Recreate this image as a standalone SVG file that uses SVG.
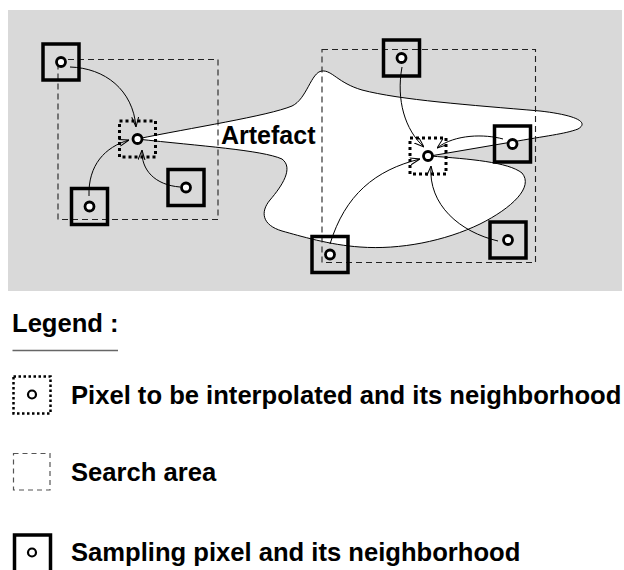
<svg xmlns="http://www.w3.org/2000/svg" width="624" height="570" viewBox="0 0 624 570">
  <style>
    .sample { fill: none; stroke: #000; stroke-width: 3.5; }
    .target { fill: none; stroke: #000; stroke-width: 3; stroke-dasharray: 3 3; }
    .pix { fill: #fff; stroke: #000; stroke-width: 2.8; }
    .search { fill: none; stroke: #222; stroke-width: 1.1; stroke-dasharray: 6 4; }
    .link { fill: none; stroke: #000; stroke-width: 1; marker-end: url(#arr); }
    .lbl { font-family: "Liberation Sans", Arial, sans-serif; font-weight: bold; font-size: 25.6px; fill: #000; }
  </style>
  <defs>
    <marker id="arr" viewBox="0 0 10 8" refX="10" refY="4" markerWidth="10" markerHeight="8" markerUnits="userSpaceOnUse" orient="auto">
      <path d="M0,0.5 L10,4 L0,7.5" fill="none" stroke="#000" stroke-width="1"/>
    </marker>
  </defs>

  <!-- image area -->
  <rect x="8" y="10" width="614" height="281" fill="#d9d9d9"/>

  <!-- artefact region -->
  <g id="artefact">
    <path d="M137,139 C190,128 268,116 292,106 C307,99 311,72 322,71 C332,70 338,83 362,90 C400,100 470,105 540,111 C575,115 590,122 578,129 C565,134 545,136 512,142 L430,156 C470,159 508,162 522,173 C534,187 512,208 480,224 C445,241 400,250 360,247 C330,245 300,236 282,231 C262,225 260,212 270,200 C282,186 294,168 282,159 C262,150 200,146 137,139 Z" fill="#fff" stroke="#000" stroke-width="1"/>
    <text class="lbl" x="221" y="144" style="font-size:25px">Artefact</text>
  </g>

  <!-- search areas -->
  <g id="search-left"><rect class="search" x="58" y="59.5" width="160" height="160"/></g>
  <g id="search-right"><rect class="search" x="322" y="49.5" width="213.5" height="213"/></g>

  <!-- connectors -->
  <g id="connectors">
    <path class="link" d="M70,67 C105,68 133,90 136,127"/>
    <path class="link" d="M89,196 C88,165 105,147 129,140"/>
    <path class="link" d="M180,187 C155,185 141,170 142,150"/>
    <path class="link" d="M402,67 C396,100 405,130 424,147"/>
    <path class="link" d="M503,139 C485,134 455,134 437,148"/>
    <path class="link" d="M498,241 C460,232 428,205 431,166"/>
    <path class="link" d="M330,244 C345,195 375,170 420,159"/>
  </g>

  <!-- pixels to be interpolated -->
  <g id="target-left">
    <rect class="target" x="119.5" y="121" width="36" height="36"/>
    <circle class="pix" cx="137.5" cy="139" r="4.5"/>
  </g>
  <g id="target-right">
    <rect class="target" x="410" y="138" width="36" height="36"/>
    <circle class="pix" cx="428" cy="156" r="4.5"/>
  </g>

  <!-- sampling pixels -->
  <g id="sample-1">
    <rect class="sample" x="43" y="44" width="36" height="36"/>
    <circle class="pix" cx="61" cy="62" r="4.5"/>
  </g>
  <g id="sample-2">
    <rect class="sample" x="71.5" y="188.5" width="36" height="36"/>
    <circle class="pix" cx="89.5" cy="206.5" r="4.5"/>
  </g>
  <g id="sample-3">
    <rect class="sample" x="168" y="169.5" width="36" height="36"/>
    <circle class="pix" cx="186" cy="187.5" r="4.5"/>
  </g>
  <g id="sample-4">
    <rect class="sample" x="383.5" y="40" width="36" height="36"/>
    <circle class="pix" cx="401.5" cy="58" r="4.5"/>
  </g>
  <g id="sample-5">
    <rect class="sample" x="494.5" y="126" width="36" height="36"/>
    <circle class="pix" cx="512.5" cy="144" r="4.5"/>
  </g>
  <g id="sample-6">
    <rect class="sample" x="490" y="222" width="36" height="36"/>
    <circle class="pix" cx="508" cy="240" r="4.5"/>
  </g>
  <g id="sample-7">
    <rect class="sample" x="312" y="236.5" width="36" height="36"/>
    <circle class="pix" cx="330" cy="254.5" r="4.5"/>
  </g>

  <!-- legend -->
  <g id="legend">
    <text class="lbl" x="12" y="332">Legend :</text>
    <line x1="12.5" y1="350.5" x2="118" y2="350.5" stroke="#666" stroke-width="1.4"/>

    <rect x="13.5" y="376.5" width="37" height="37" fill="none" stroke="#000" stroke-width="2.5" stroke-dasharray="2.5 2.5"/>
    <circle cx="32" cy="394.5" r="4" fill="#fff" stroke="#000" stroke-width="2.2"/>
    <text class="lbl" x="71" y="404">Pixel to be interpolated and its neighborhood</text>

    <rect x="13.5" y="453.5" width="36.5" height="36.5" fill="none" stroke="#555" stroke-width="1.2" stroke-dasharray="5 4"/>
    <text class="lbl" x="71" y="481">Search area</text>

    <rect x="14.5" y="535" width="36" height="38" fill="none" stroke="#000" stroke-width="3.5"/>
    <circle cx="32" cy="552.5" r="4" fill="#fff" stroke="#000" stroke-width="2.2"/>
    <text class="lbl" x="71" y="561">Sampling pixel and its neighborhood</text>
  </g>
</svg>
